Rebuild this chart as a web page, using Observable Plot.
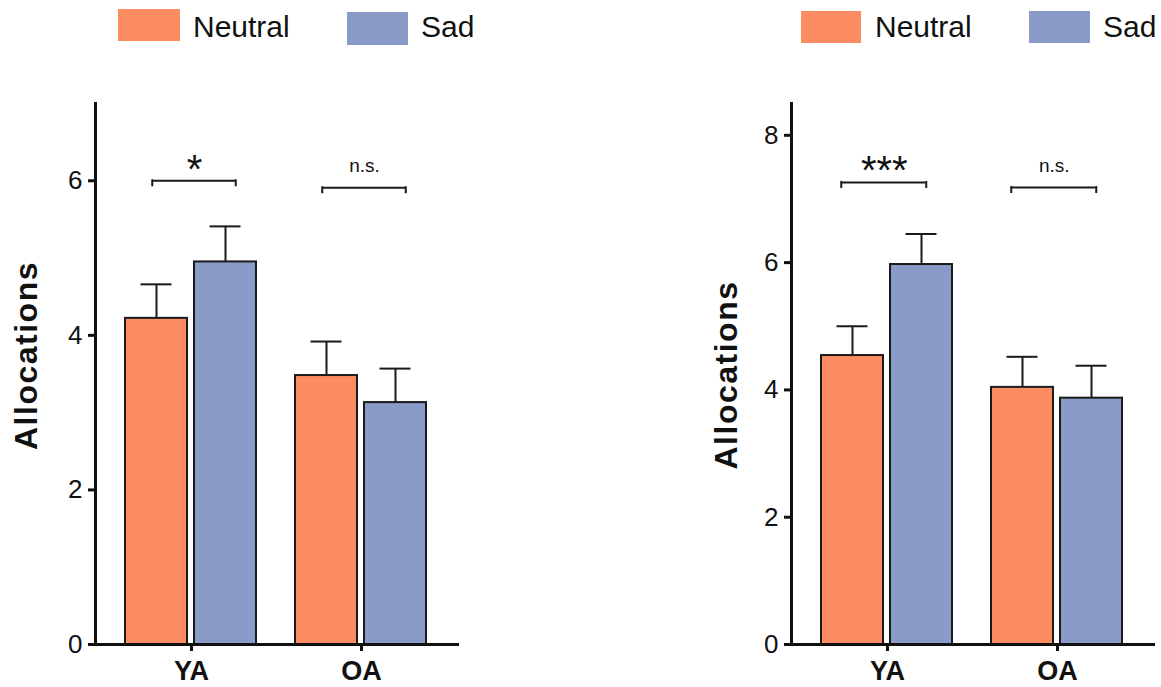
<!DOCTYPE html>
<html><head><meta charset="utf-8">
<script src="https://cdn.jsdelivr.net/npm/d3@7"></script>
<script src="https://cdn.jsdelivr.net/npm/@observablehq/plot@0.6"></script>
<style>
body{margin:0;background:#fff;font-family:"Liberation Sans",Arial,sans-serif;}
#root{position:relative;width:1161px;height:687px;overflow:hidden;background:#fff;}
.panel{position:absolute;top:0;width:465px;height:687px;}
.sw{position:absolute;}
.lt{position:absolute;font-size:30px;line-height:30px;color:#111;white-space:nowrap;}
.plotbox{position:absolute;top:60px;left:0;}
.ylab text{letter-spacing:1.5px;}
</style></head><body><div id="root"></div>
<script>
const groups = ["YA", "OA"];
const conditions = ["Neutral", "Sad"];
const colors = ["#fc8d62", "#8a9bc9"];
const yLabel = "Allocations";

// Left panel (values per group: YA, OA)
const leftNeutral = [4.22, 3.48];
const leftSad = [4.95, 3.13];
const leftNeutralSE = [0.44, 0.44];
const leftSadSE = [0.46, 0.44];
const leftBracket = [6.0, 5.91];
const leftSig = ["*", "n.s."];
const leftTicks = [0, 2, 4, 6];
const leftMax = 7;

// Right panel
const rightNeutral = [4.54, 4.04];
const rightSad = [5.97, 3.87];
const rightNeutralSE = [0.46, 0.48];
const rightSadSE = [0.48, 0.51];
const rightBracket = [7.26, 7.18];
const rightSig = ["***", "n.s."];
const rightTicks = [0, 2, 4, 6, 8];
const rightMax = 8.5;

const ink = "#1a1a1a";
const FONT = '"Liberation Sans", Arial, sans-serif';

function makePlot(p) {
  const rows = [];
  groups.forEach((g, i) => {
    rows.push({group: g, condition: conditions[0], mean: p.neutral[i], se: p.neutralSE[i]});
    rows.push({group: g, condition: conditions[1], mean: p.sad[i], se: p.sadSE[i]});
  });
  const br = groups.map((g, i) => ({group: g, y: p.bracket[i], label: p.sig[i]}));
  const half = 31.25;
  return Plot.plot({
    width: 465, height: 627,
    marginLeft: 95, marginRight: 3, marginTop: 43, marginBottom: 43,
    style: {fontFamily: FONT, color: "#111", background: "white", overflow: "visible"},
    fx: {domain: groups, paddingInner: -0.1294, paddingOuter: 0.0147, align: 0, label: null, axis: null},
    x: {domain: conditions, paddingInner: 0.1007, paddingOuter: 0.431, axis: null},
    y: {domain: [0, p.yMax], axis: null},
    color: {domain: conditions, range: colors},
    marks: [
      Plot.barY(rows, {fx: "group", x: "condition", y: "mean", fill: "condition", stroke: ink, strokeWidth: 2}),
      Plot.ruleX(rows, {fx: "group", x: "condition", y1: "mean", y2: d => d.mean + d.se, stroke: ink, strokeWidth: 2}),
      Plot.tickY(rows, {fx: "group", x: "condition", y: d => d.mean + d.se, stroke: ink, strokeWidth: 2, insetLeft: 15.5, insetRight: 15.5}),
      Plot.ruleY(br, {fx: "group", x1: () => conditions[0], x2: () => conditions[1], y: "y", stroke: ink, strokeWidth: 2, insetLeft: p.insetL, insetRight: p.insetR}),
      Plot.ruleX(br, {fx: "group", x: () => conditions[0], y1: "y", y2: "y", insetTop: -1, insetBottom: -6, stroke: ink, strokeWidth: 2, dx: p.insetL - half}),
      Plot.ruleX(br, {fx: "group", x: () => conditions[1], y1: "y", y2: "y", insetTop: -1, insetBottom: -6, stroke: ink, strokeWidth: 2, dx: half - p.insetR}),
      Plot.text(br, {fx: "group", filter: d => d.label !== "n.s.", y: "y", text: "label", fontSize: 40, lineAnchor: "bottom", dy: 2, dx: (p.insetL - p.insetR) / 2, fill: "#111"}),
      Plot.text(br, {fx: "group", filter: d => d.label === "n.s.", y: "y", text: "label", fontSize: 19, lineAnchor: "bottom", dy: -16, dx: (p.insetL - p.insetR) / 2, fill: "#111"}),
      Plot.axisY({ticks: p.ticks, tickFormat: d3.format("~f"), tickSize: 7, tickPadding: 6, fontSize: 26, strokeWidth: 3, stroke: "#111", label: null}),
      Plot.axisFx({anchor: "bottom", tickSize: 7, tickPadding: 9, fontSize: 27, fontWeight: "bold", strokeWidth: 3, stroke: "#111", label: null}),
      Plot.frame({anchor: "left", facet: "super", stroke: "#111", strokeWidth: 3}),
      Plot.frame({anchor: "bottom", facet: "super", stroke: "#111", strokeWidth: 3}),
      Plot.text([yLabel], {facet: "super", frameAnchor: "left", text: d => d, rotate: -90, fontSize: 32, fontWeight: "bold", textAnchor: "middle", lineAnchor: "middle", dx: p.labelDx, dy: p.labelDy, fill: "#111", className: "ylab"})
    ]
  });
}

function makePanel(left, p, leg) {
  const panel = document.createElement("div");
  panel.className = "panel";
  panel.style.left = left + "px";
  conditions.forEach((c, i) => {
    const sw = document.createElement("div");
    sw.className = "sw";
    sw.style.background = colors[i];
    sw.style.left = leg.sx[i] + "px";
    sw.style.top = leg.sy[i] + "px";
    sw.style.width = leg.sw[i] + "px";
    sw.style.height = leg.sh[i] + "px";
    panel.appendChild(sw);
    const t = document.createElement("div");
    t.className = "lt";
    t.textContent = c;
    t.style.left = leg.tx[i] + "px";
    t.style.top = "12px";
    panel.appendChild(t);
  });
  const box = document.createElement("div");
  box.className = "plotbox";
  box.appendChild(makePlot(p));
  panel.appendChild(box);
  document.getElementById("root").appendChild(panel);
}

makePanel(0, {
  neutral: leftNeutral, sad: leftSad, neutralSE: leftNeutralSE, sadSE: leftSadSE,
  bracket: leftBracket, sig: leftSig, ticks: leftTicks, yMax: leftMax,
  insetL: 27, insetR: 21, labelDx: -69, labelDy: -18.5
}, {sx: [118, 347], sy: [9, 12], sw: [62, 61], sh: [32, 33], tx: [193, 421]});

makePanel(696, {
  neutral: rightNeutral, sad: rightSad, neutralSE: rightNeutralSE, sadSE: rightSadSE,
  bracket: rightBracket, sig: rightSig, ticks: rightTicks, yMax: rightMax,
  insetL: 20, insetR: 26.5, labelDx: -65, labelDy: 1
}, {sx: [105, 333], sy: [11, 11], sw: [60, 61], sh: [32, 32], tx: [179, 407]});
</script>
</body></html>
